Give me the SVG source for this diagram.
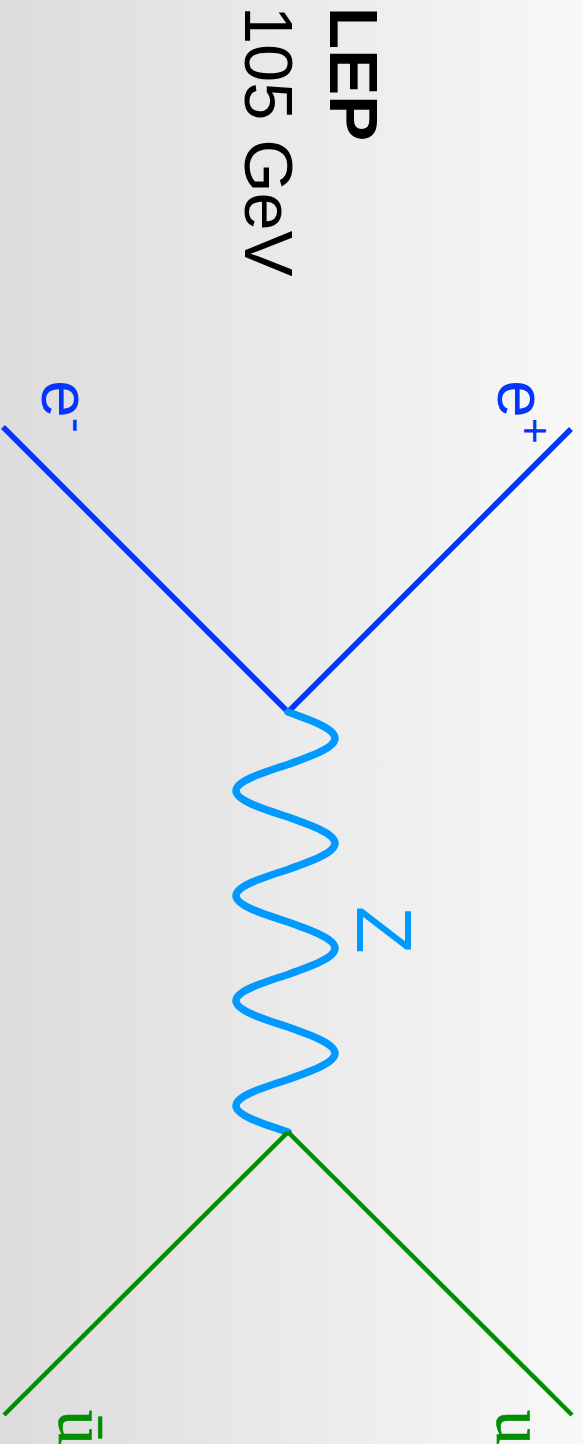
<svg xmlns="http://www.w3.org/2000/svg" width="583" height="1444" viewBox="0 0 583 1444">
  <defs>
    <linearGradient id="bg" x1="0" y1="0" x2="1" y2="0">
      <stop offset="0" stop-color="#dcdcdc"/>
      <stop offset="1" stop-color="#f8f8f8"/>
    </linearGradient>
    <style>
      .sans { font-family: "Liberation Sans", Arial, sans-serif; }
      .serif { font-family: "Liberation Serif", "Times New Roman", serif; }
      .electron { stroke: #0533ff; stroke-width: 5.5; fill: none; stroke-linecap: butt; }
      .quark { stroke: #008f00; stroke-width: 4.5; fill: none; }
      .boson { stroke: #0099ff; stroke-width: 7.5; fill: none; stroke-linecap: round; }
    </style>
  </defs>
  <rect x="0" y="0" width="583" height="1444" fill="url(#bg)"/>

  <g id="title">
    <text class="sans" font-size="69" font-weight="bold" fill="#000" transform="translate(330,7) rotate(90)">LEP</text>
    <text class="sans" font-size="68.5" fill="#000" transform="translate(245,6) rotate(90)">105 GeV</text>
  </g>

  <g id="connectors">
    <line class="electron" x1="3" y1="427" x2="288" y2="712"/>
    <line class="electron" x1="571" y1="429" x2="288" y2="712"/>
    <path class="boson" d="M288,712 c24.08,8.56 47,16.75 47,26.25 c0,9.5 -22.92,17.69 -47,26.25 c-26.6,8.56 -52,16.75 -52,26.25 c0,9.5 25.4,17.69 52,26.25 c24.08,8.56 47,16.75 47,26.25 c0,9.5 -22.92,17.69 -47,26.25 c-26.6,8.56 -52,16.75 -52,26.25 c0,9.5 25.4,17.69 52,26.25 c24.08,8.56 47,16.75 47,26.25 c0,9.5 -22.92,17.69 -47,26.25 c-26.6,8.56 -52,16.75 -52,26.25 c0,9.5 25.4,17.69 52,26.25 c24.08,8.56 47,16.75 47,26.25 c0,9.5 -22.92,17.69 -47,26.25 c-26.6,8.56 -52,16.75 -52,26.25 c0,9.5 25.4,17.69 52,26.25"/>
    <line class="quark" x1="288" y1="1132" x2="4" y2="1415"/>
    <line class="quark" x1="288" y1="1132" x2="572" y2="1415"/>
  </g>

  <g id="e-minus">
    <text class="sans" font-size="68" fill="#0533ff" transform="translate(42,380) rotate(90)">e<tspan font-size="45" dy="-21">-</tspan></text>
  </g>
  <g id="e-plus">
    <text class="sans" font-size="68" fill="#0533ff" transform="translate(498,380) rotate(90)">e<tspan font-size="45" dy="-22">+</tspan></text>
  </g>
  <g id="z-boson">
    <text class="sans" font-size="78" fill="#0099ff" transform="translate(357,906) rotate(90)">Z</text>
  </g>
  <g id="u-bar">
    <text class="serif" font-size="70" fill="#008f00" stroke="#008f00" stroke-width="0.6" transform="translate(59,1410) rotate(90)">ū</text>
  </g>
  <g id="u-quark">
    <text class="serif" font-size="70" fill="#008f00" stroke="#008f00" stroke-width="0.6" transform="translate(497,1410) rotate(90)">u</text>
  </g>
</svg>
